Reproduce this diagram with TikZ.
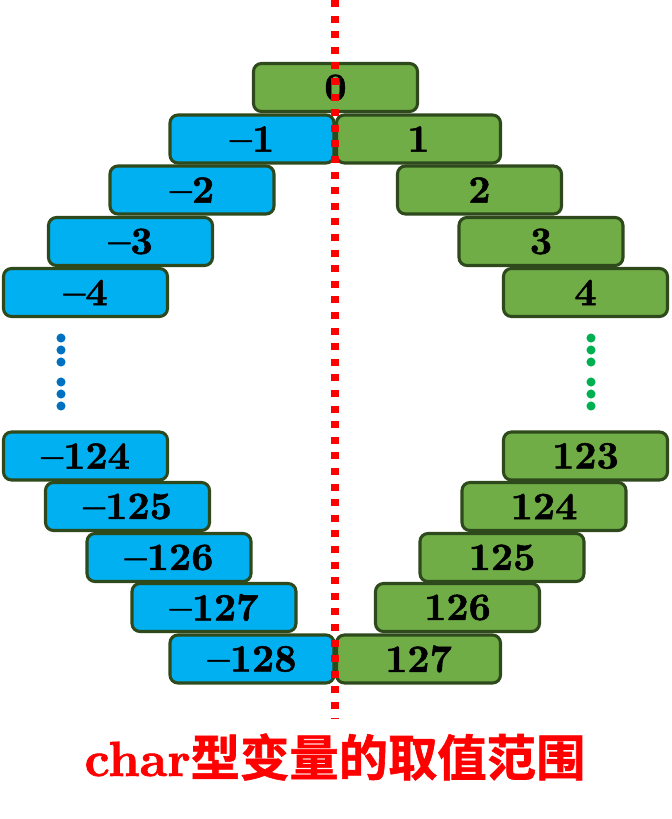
\documentclass[tikz,border=0pt]{standalone}
\usepackage{fontspec}
\usepackage{tikz}
\newfontfamily\cjk{Noto Sans CJK SC}[BoldFont={* Bold}, BoldFeatures={FakeBold=1.2}]
\newfontfamily\heavy{lmroman10-bold}[Extension=.otf, FakeBold=1.3, Ligatures=TeX]
\definecolor{boxblue}{HTML}{00B0F0}
\definecolor{boxgreen}{HTML}{70AD47}
\definecolor{boxedge}{HTML}{2E4A1C}
\definecolor{dotblue}{HTML}{0070C0}
\definecolor{dotgreen}{HTML}{00B050}
\tikzset{
  valbox/.style={draw=boxedge, line width=2.3pt, rounded corners=6pt,
    minimum width=123pt, minimum height=36pt, inner sep=0pt,
    font=\fontsize{29}{30}\selectfont\heavy},
  negbox/.style={valbox, fill=boxblue},
  posbox/.style={valbox, fill=boxgreen},
  gapdot/.style={circle, inner sep=0pt, minimum size=6.8pt}
}
\begin{document}
\begin{tikzpicture}[x=0.75pt,y=-0.75pt]
\useasboundingbox (0,0) rectangle (672,819);

%% The zero on top
\node [posbox] (p0) at (335.5,87.5) {0};

%% The negative values, upper part
\node [negbox] (m1) at (252,139) {--1};
\node [negbox] (m2) at (192,190) {--2};
\node [negbox] (m3) at (130.5,241.5) {--3};
\node [negbox] (m4) at (85.5,292.5) {--4};

%% The positive values, upper part
\node [posbox] (p1) at (418.5,139) {1};
\node [posbox] (p2) at (479.5,190) {2};
\node [posbox] (p3) at (541,241.5) {3};
\node [posbox] (p4) at (585.5,292.5) {4};

%% The negative values, lower part
\node [negbox] (m124) at (85.5,456) {--124};
\node [negbox] (m125) at (127.5,506.5) {--125};
\node [negbox] (m126) at (169,557.5) {--126};
\node [negbox] (m127) at (214,607.5) {--127};
\node [negbox] (m128) at (252,659) {--128};

%% The positive values, lower part
\node [posbox] (p123) at (585.5,456) {123};
\node [posbox] (p124) at (544,506.5) {124};
\node [posbox] (p125) at (502,557.5) {125};
\node [posbox] (p126) at (457.5,607.5) {126};
\node [posbox] (p127) at (418.5,659) {127};

%% The dots between the parts
\foreach \y in {338,350,362,382,394,406} {
  \node [gapdot, fill=dotblue] at (61,\y) {};
  \node [gapdot, fill=dotgreen] at (591,\y) {};
}

%% The red middle line
\coordinate (top) at (335,0);
\coordinate (bot) at (335,718);
\draw [red, line width=5.5pt, dash pattern=on 5.3pt off 6.4pt] (top) -- (bot);

%% The title
\node [red, font=\fontsize{37}{40}\selectfont\heavy] (title) at (335,757)
  {char{\cjk\bfseries 型变量的取值范围}};

\end{tikzpicture}
\end{document}
